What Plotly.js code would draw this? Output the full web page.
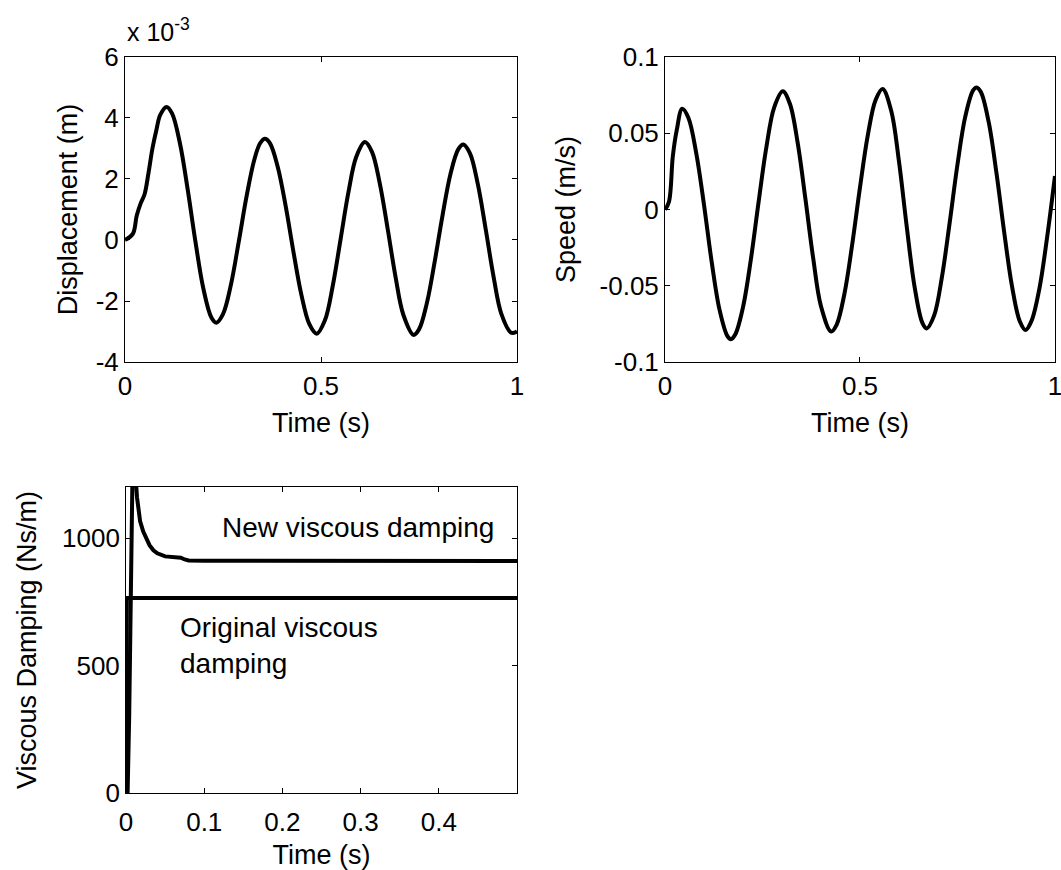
<!DOCTYPE html>
<html>
<head>
<meta charset="utf-8">
<script src="https://cdn.plot.ly/plotly-3.0.1.min.js"></script>
<style>html,body{margin:0;padding:0;background:#fff}#chart{width:1061px;height:870px}</style>
</head>
<body>
<div id="chart"></div>
<script>
// Displacement (units of 1e-3 m)
var dispTime = [0,0.02,0.03,0.04,0.05,0.06,0.07,0.08,0.09,0.106,0.12,0.14,0.16,0.18,0.20,0.22,0.233,0.25,0.27,0.29,0.31,0.33,0.345,0.357,0.37,0.39,0.41,0.43,0.45,0.47,0.489,0.51,0.53,0.55,0.57,0.59,0.612,0.63,0.65,0.67,0.69,0.71,0.736,0.75,0.77,0.79,0.81,0.83,0.85,0.863,0.88,0.90,0.92,0.94,0.96,0.985,1.0];
var dispValue = [0,0.2,0.8,1.2,1.5,2.2,3.0,3.6,4.1,4.36,4.15,3.18,1.65,-0.08,-1.60,-2.53,-2.71,-2.43,-1.48,-0.07,1.42,2.64,3.18,3.32,3.17,2.38,1.10,-0.41,-1.80,-2.75,-3.07,-2.63,-1.50,0.03,1.57,2.73,3.21,2.89,1.85,0.37,-1.20,-2.45,-3.11,-2.93,-2.07,-0.71,0.81,2.15,2.97,3.13,2.84,1.83,0.36,-1.19,-2.42,-3.04,-3.0];

// Speed (m/s)
var speedTime = [0,0.01,0.02,0.03,0.044,0.06,0.08,0.10,0.12,0.14,0.16,0.169,0.18,0.20,0.22,0.24,0.26,0.28,0.302,0.32,0.34,0.36,0.38,0.40,0.426,0.44,0.46,0.48,0.50,0.52,0.54,0.558,0.58,0.60,0.62,0.64,0.66,0.671,0.69,0.71,0.73,0.75,0.77,0.79,0.799,0.81,0.83,0.85,0.87,0.89,0.91,0.925,0.94,0.96,0.98,1.0];
var speedValue = [0,0.005,0.035,0.052,0.066,0.060,0.037,0.003,-0.035,-0.066,-0.083,-0.085,-0.082,-0.064,-0.033,0.005,0.041,0.067,0.0775,0.0695,0.044,0.007,-0.032,-0.0635,-0.080,-0.0756,-0.0554,-0.023,0.0145,0.0486,0.0718,0.079,0.0648,0.0314,-0.0115,-0.0507,-0.0744,-0.078,-0.0696,-0.0445,-0.0086,0.0295,0.0609,0.0781,0.080,0.0771,0.0574,0.0239,-0.0152,-0.0506,-0.0734,-0.079,-0.073,-0.052,-0.018,0.022];

// Viscous damping (Ns/m)
var newDampTime = [0,0.002,0.004,0.006,0.008,0.010,0.012,0.014,0.016,0.018,0.022,0.026,0.030,0.035,0.040,0.050,0.060,0.070,0.075,0.080,0.10,0.20,0.30,0.40,0.50];
var newDampValue = [0,0,300,800,1200,1280,1250,1160,1100,1065,1025,995,972,952,940,928,924,923,916,912,911,910,910,910,910];
var origDampTime = [0,0.001,0.5];
var origDampValue = [0,765,765];

// Tick labels
var timeTicks1 = [0, 0.5, 1];
var timeTickText1 = ['0', '0.5', '1'];
var dispTicks = [-4, -2, 0, 2, 4, 6];
var dispTickText = ['-4', '-2', '0', '2', '4', '6'];
var speedTicks = [-0.1, -0.05, 0, 0.05, 0.1];
var speedTickText = ['-0.1', '-0.05', '0', '0.05', '0.1'];
var timeTicks3 = [0, 0.1, 0.2, 0.3, 0.4];
var timeTickText3 = ['0', '0.1', '0.2', '0.3', '0.4'];
var dampTicks = [0, 500, 1000];
var dampTickText = ['0', '500', '1000'];

var labels = {
  dispY: 'Displacement (m)',
  speedY: 'Speed (m/s)',
  dampY: 'Viscous Damping (Ns/m)',
  timeX: 'Time (s)',
  scale: 'x 10<sup>-3</sup>',
  newDamp: 'New viscous damping',
  origDamp: 'Original viscous<br>damping'
};

var FONT = 'Liberation Sans, Arial, sans-serif';
var TICK = 26, TITLE = 27;
var lineStyle = {color: '#000', width: 4};
var smoothLine = {color: '#000', width: 4, shape: 'spline', smoothing: 1};

var traces = [
  {x: dispTime, y: dispValue, xaxis: 'x', yaxis: 'y', mode: 'lines', line: smoothLine, showlegend: false},
  {x: speedTime, y: speedValue, xaxis: 'x2', yaxis: 'y2', mode: 'lines', line: smoothLine, showlegend: false},
  {x: newDampTime, y: newDampValue, xaxis: 'x3', yaxis: 'y3', mode: 'lines', line: lineStyle, showlegend: false},
  {x: origDampTime, y: origDampValue, xaxis: 'x3', yaxis: 'y3', mode: 'lines', line: lineStyle, showlegend: false}
];

function ax(extra) {
  var base = {
    showline: true, mirror: 'ticks', linecolor: '#000', linewidth: 1,
    ticks: 'inside', ticklen: 5, tickcolor: '#000', tickwidth: 1,
    showgrid: false, zeroline: false, ticklabeloverflow: 'allow',
    tickfont: {family: FONT, size: TICK, color: '#000'}
  };
  for (var k in extra) base[k] = extra[k];
  return base;
}
function ttl(text, standoff) {
  return {text: text, font: {family: FONT, size: TITLE, color: '#000'}, standoff: standoff};
}

var layout = {
  width: 1061, height: 870,
  margin: {l: 0, r: 0, t: 0, b: 0},
  paper_bgcolor: '#fff', plot_bgcolor: '#fff',
  font: {family: FONT, color: '#000'},
  xaxis: ax({domain: [0.1178, 0.4873], range: [0, 1], tickvals: timeTicks1, ticktext: timeTickText1, anchor: 'y',
    ticklabelstandoff: 1, title: ttl(labels.timeX, 12)}),
  yaxis: ax({domain: [0.5839, 0.9345], range: [-4, 6], tickvals: dispTicks, ticktext: dispTickText, anchor: 'x',
    title: ttl(labels.dispY, 10)}),
  xaxis2: ax({domain: [0.6268, 0.9943], range: [0, 1], tickvals: timeTicks1, ticktext: timeTickText1, anchor: 'y2',
    ticklabelstandoff: 1, title: ttl(labels.timeX, 12)}),
  yaxis2: ax({domain: [0.5839, 0.9345], range: [-0.1, 0.1], tickvals: speedTicks, ticktext: speedTickText, anchor: 'x2',
    title: ttl(labels.speedY, 16)}),
  xaxis3: ax({domain: [0.1188, 0.4873], range: [0, 0.5], tickvals: timeTicks3, ticktext: timeTickText3, anchor: 'y3',
    ticklabelstandoff: 6, title: ttl(labels.timeX, 10)}),
  yaxis3: ax({domain: [0.0885, 0.4402], range: [0, 1200], tickvals: dampTicks, ticktext: dampTickText, anchor: 'x3',
    title: ttl(labels.dampY, 17)}),
  annotations: [
    {text: labels.scale, xref: 'paper', yref: 'paper', x: 0.1178, y: 1 - 30/870, xanchor: 'left', yanchor: 'middle', showarrow: false,
      font: {family: FONT, size: 25, color: '#000'}},
    {text: labels.newDamp, xref: 'x3', yref: 'y3', x: 0.12, y: 1043, xanchor: 'left', yanchor: 'middle', showarrow: false,
      font: {family: FONT, size: 28, color: '#000'}},
    {text: labels.origDamp, xref: 'x3', yref: 'y3', x: 0.066, y: 578, xanchor: 'left', yanchor: 'middle', align: 'left', showarrow: false,
      font: {family: FONT, size: 28, color: '#000'}}
  ]
};

Plotly.newPlot('chart', traces, layout, {staticPlot: true, displayModeBar: false});
</script>
</body>
</html>
